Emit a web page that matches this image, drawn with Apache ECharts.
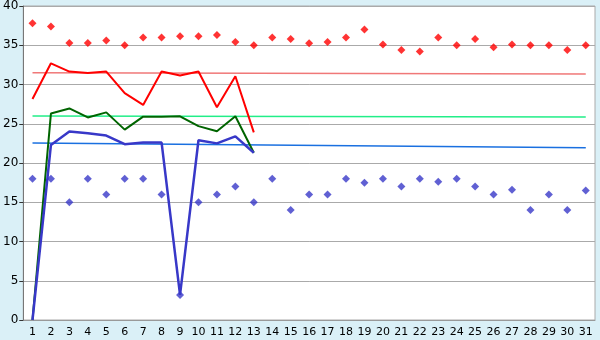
<!DOCTYPE html>
<html><head><meta charset="utf-8">
<script src="https://cdn.jsdelivr.net/npm/echarts@6/dist/echarts.min.js"></script>
<style>html,body{margin:0;padding:0;background:#daf0f7}#c{width:600px;height:340px}</style>
</head><body><div id="c"></div>
<script>
var categories = ['1','2','3','4','5','6','7','8','9','10','11','12','13','14','15','16','17','18','19','20','21','22','23','24','25','26','27','28','29','30','31'];
var redPoints = [37.8,37.4,35.3,35.3,35.6,35.0,36.0,36.0,36.15,36.15,36.3,35.4,35.0,36.0,35.8,35.25,35.4,36.0,37.0,35.1,34.4,34.2,36.0,35.0,35.8,34.75,35.1,35.0,35.0,34.4,35.0];
var bluePoints = [18,18,15,18,16,18,18,16,3.2,15,16,17,15,18,14,16,16,18,17.5,18,17,18,17.6,18,17,16,16.6,14,16,14,16.5];
var redLine = [28.15,32.7,31.65,31.45,31.65,28.9,27.4,31.65,31.15,31.65,27.1,31.05,23.9];
var greenLine = [0,26.3,26.95,25.8,26.45,24.25,25.9,25.9,25.95,24.7,24.05,25.95,21.3];
var blueLine = [0,22.3,24.0,23.8,23.5,22.4,22.6,22.6,3.2,22.9,22.5,23.4,21.3];
var redTrendEnds = [31.5,31.33];
var greenTrendEnds = [26.0,25.87];
var blueTrendEnds = [22.56,21.93];
var yTicks = [0,5,10,15,20,25,30,35,40];

function ends(e){var a=categories.map(function(){return null;});a[0]=e[0];a[a.length-1]=e[1];return a;}

var chart = echarts.init(document.getElementById('c'), null, {renderer:'canvas'});
var font = 'DejaVu Sans';
chart.setOption({
  animation:false,
  backgroundColor:'#daf0f7',
  grid:{left:20,right:5,top:5,bottom:20,show:true,backgroundColor:'#ffffff',borderColor:'#aaaaaa',borderWidth:1},
  xAxis:{type:'category',data:categories,boundaryGap:true,
    axisLine:{lineStyle:{color:'#999999',width:1}},
    axisTick:{alignWithLabel:true,length:5,lineStyle:{color:'#333333'}},
    axisLabel:{color:'#000',fontFamily:font,fontSize:11,margin:7,interval:0},
    splitLine:{show:false}},
  yAxis:{type:'value',min:yTicks[0],max:yTicks[yTicks.length-1],interval:5,
    axisLine:{show:true,lineStyle:{color:'#777777'}},
    axisTick:{show:true,length:4,lineStyle:{color:'#333333'}},
    axisLabel:{color:'#000',fontFamily:font,fontSize:12,margin:5},
    splitLine:{lineStyle:{color:'#aaaaaa',width:1}}},
  series:[
    {type:'line',data:ends(redTrendEnds),connectNulls:true,symbol:'none',lineStyle:{color:'#f07878',width:1.5},z:1},
    {type:'line',data:ends(greenTrendEnds),connectNulls:true,symbol:'none',lineStyle:{color:'#22ee88',width:1.5},z:1},
    {type:'line',data:ends(blueTrendEnds),connectNulls:true,symbol:'none',lineStyle:{color:'#1a70e0',width:1.5},z:1},
    {type:'line',data:greenLine,symbol:'none',lineStyle:{color:'#006400',width:2},z:3},
    {type:'line',data:blueLine,symbol:'none',lineStyle:{color:'#3838c8',width:2.5},z:3},
    {type:'line',data:redLine,symbol:'none',lineStyle:{color:'#ff0000',width:2},z:3},
    {type:'scatter',data:redPoints,symbol:'diamond',symbolSize:8,itemStyle:{color:'#ff0000'},z:4},
    {type:'scatter',data:bluePoints,symbol:'diamond',symbolSize:8,itemStyle:{color:'#3838c8'},z:4}
  ]
});
</script></body></html>
